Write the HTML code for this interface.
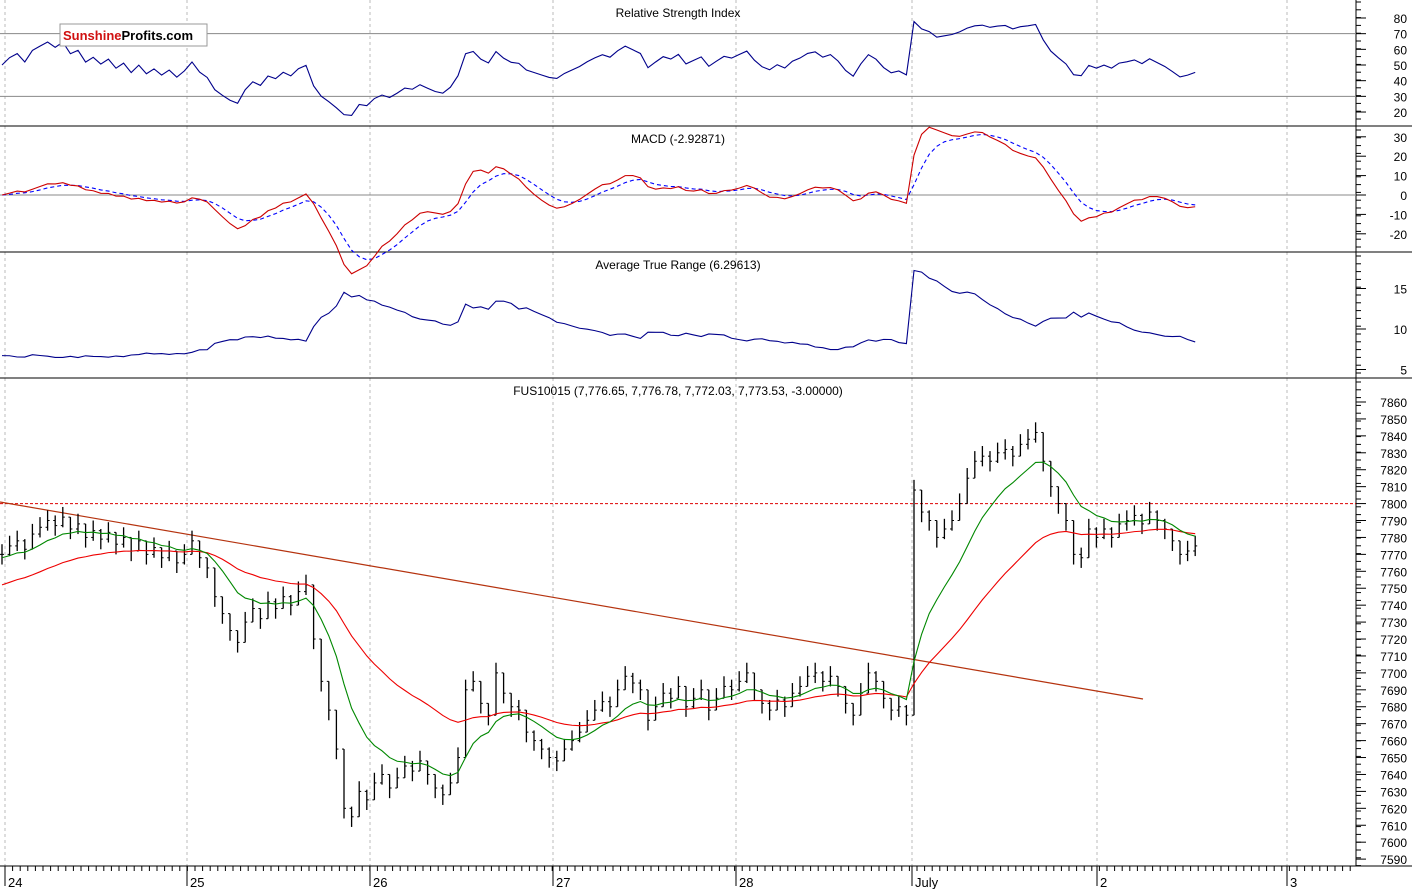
<!DOCTYPE html>
<html><head><meta charset="utf-8"><style>
body{margin:0;background:#fff;}
svg{display:block;font-family:"Liberation Sans",sans-serif;}
</style></head><body>
<svg id="c" width="1412" height="889"></svg>
<script>
const dayLabels=["24","25","26","27","28","July","2","3"];
const dayX=[5,187,370,553,736,912,1097,1287];
const closes=[7770,7775,7778,7773,7782,7786,7790,7787,7792,7785,7788,7780,7784,7779,7783,7776,7780,7772,7778,7770,7774,7768,7772,7765,
7770,7778,7768,7762,7745,7735,7725,7718,7730,7738,7732,7742,7738,7745,7740,7748,7752,7720,7695,7678,7655,7620,7615,7630,
7625,7635,7640,7632,7638,7645,7642,7648,7640,7632,7628,7635,7650,7690,7695,7682,7675,7700,7688,7680,7678,7665,7660,7655,
7650,7648,7655,7660,7665,7672,7678,7683,7680,7690,7698,7694,7690,7672,7680,7688,7685,7692,7680,7685,7690,7678,7685,7692,
7690,7695,7700,7690,7682,7678,7684,7680,7688,7692,7698,7700,7695,7698,7692,7682,7675,7688,7700,7695,7685,7678,7680,7675,
7808,7795,7790,7780,7785,7790,7800,7815,7825,7828,7825,7830,7832,7828,7835,7838,7842,7825,7810,7800,7790,7770,7768,7785,
7780,7785,7780,7788,7790,7793,7788,7795,7790,7785,7778,7770,7772,7775];
const priceTicks=[7590,7600,7610,7620,7630,7640,7650,7660,7670,7680,7690,7700,7710,7720,7730,7740,7750,7760,7770,7780,7790,7800,7810,7820,7830,7840,7850,7860];
const rsiTicks=[20,30,40,50,60,70,80];
const macdTicks=[-20,-10,0,10,20,30];
const atrTicks=[5,10,15];
const S="http://www.w3.org/2000/svg",svg=document.getElementById('c');
function el(t,a,p){const e=document.createElementNS(S,t);for(const k in a)e.setAttribute(k,a[k]);(p||svg).appendChild(e);return e;}
const X=i=>2+i*7.6;
const yP=v=>402+(7860-v)*1.693, yR=v=>18+(80-v)*1.567, yM=v=>195-v*1.94, yA=v=>329-(v-10)*8.1;
dayX.forEach(x=>{const g=el('line',{x1:x,x2:x,y1:0,y2:866,stroke:'#bbb','stroke-dasharray':'3,3'});
});
[126,252,378].forEach(y=>el('line',{x1:0,x2:1412,y1:y,y2:y,stroke:'#000'}));
el('line',{x1:1356,x2:1356,y1:0,y2:866,stroke:'#000'});
el('line',{x1:0,x2:1412,y1:866,y2:866,stroke:'#000'});
for(let x=5;x<1356;x+=7.6)el('line',{x1:x,x2:x,y1:866,y2:871,stroke:'#000'});
dayX.forEach((x,i)=>{el('line',{x1:x,x2:x,y1:866,y2:886,stroke:'#000'});
const t=el('text',{x:x+3,y:887,'font-size':13});t.textContent=dayLabels[i];
});
const titles=[["Relative Strength Index",17],["MACD (-2.92871)",143],["Average True Range (6.29613)",269],["FUS10015 (7,776.65, 7,776.78, 7,772.03, 7,773.53, -3.00000)",395]];
titles.forEach(([s,y])=>{const t=el('text',{x:678,y:y,'font-size':12,'text-anchor':'middle'});t.textContent=s;
});
function axis(ticks,f,top,bot){for(let y=top;y<bot;y+=7.8)el('line',{x1:1356,x2:1361,y1:y,y2:y,stroke:'#000'});
ticks.forEach(v=>{const y=f(v);el('line',{x1:1356,x2:1366,y1:y,y2:y,stroke:'#000'});
const t=el('text',{x:1407,y:y+5,'font-size':12,'text-anchor':'end'});t.textContent=v;
});}
axis(rsiTicks,yR,2,126);axis(macdTicks,yM,130,252);axis(atrTicks,yA,256,378);axis(priceTicks,yP,382,866);
[70,30].forEach(v=>el('line',{x1:0,x2:1356,y1:yR(v),y2:yR(v),stroke:'#888'}));
el('line',{x1:0,x2:1356,y1:yM(0),y2:yM(0),stroke:'#888'});
el('line',{x1:0,x2:1356,y1:yP(7800),y2:yP(7800),stroke:'#d00','stroke-dasharray':'3,2'});
el('line',{x1:0,x2:1143,y1:502,y2:699,stroke:'#b5330f','stroke-width':1.2});
function ema(arr,p,init){const k=2/(p+1);let o=[];arr.forEach((v,i)=>o.push(i?v*k+o[i-1]*(1-k):(init!==undefined?init:v)));return o;}
const hi=closes.map(c=>c+6),lo=closes.map(c=>c-6);
const e1=ema(closes,5),e2=ema(closes,13),macd=e1.map((v,i)=>v-e2[i]),sig=ema(macd,5);
let rsi=[],ag=2,al=2;closes.forEach((c,i)=>{const d=i?c-closes[i-1]:0;ag=(ag*13+Math.max(d,0))/14;al=(al*13+Math.max(-d,0))/14;rsi.push(100*ag/(ag+al));});
let atr=[],a=7;closes.forEach((c,i)=>{const pc=i?closes[i-1]:c;const h=c+1.5,l=c-1.5;const tr=Math.max(h-l,Math.abs(h-pc),Math.abs(l-pc));a=(a*13+tr)/14;atr.push(a);});
function line(arr,f,col,name,dash){const p=el('polyline',{points:arr.map((v,i)=>X(i)+','+f(v)).join(' '),fill:'none',stroke:col,'stroke-width':1.1});
if(dash)p.setAttribute('stroke-dasharray',dash);}
line(rsi.map(v=>Math.max(16,Math.min(86,v))),yR,'#00008b','rsi-line');
line(sig,yM,'#00f','macd-signal','4,3');line(macd,yM,'#c00','macd-line');
line(atr.map(v=>Math.max(4.5,Math.min(19,v))),yA,'#00008b','atr-line');
closes.forEach((c,i)=>{const x=X(i),o=i?closes[i-1]:c;
const g=el('g',{});
el('line',{x1:x,x2:x,y1:yP(Math.max(hi[i],o)),y2:yP(Math.min(lo[i],o)),stroke:'#000','stroke-width':1.3},g);
el('line',{x1:x-2,x2:x,y1:yP(o),y2:yP(o),stroke:'#000'},g);
el('line',{x1:x,x2:x+2,y1:yP(c),y2:yP(c),stroke:'#000'},g);});
line(ema(closes,30,7752),yP,'#e00','ma-slow');line(ema(closes,10,7768),yP,'#080','ma-fast');
const lg=el('g',{});
el('rect',{x:60,y:24,width:147,height:22,fill:'#fff',stroke:'#999'},lg);
const lt=el('text',{x:63,y:40,'font-size':13,'font-weight':'bold'},lg);
lt.innerHTML='<tspan fill="#d01010">Sunshine</tspan><tspan fill="#000">Profits.com</tspan>';
</script>
</body></html>
